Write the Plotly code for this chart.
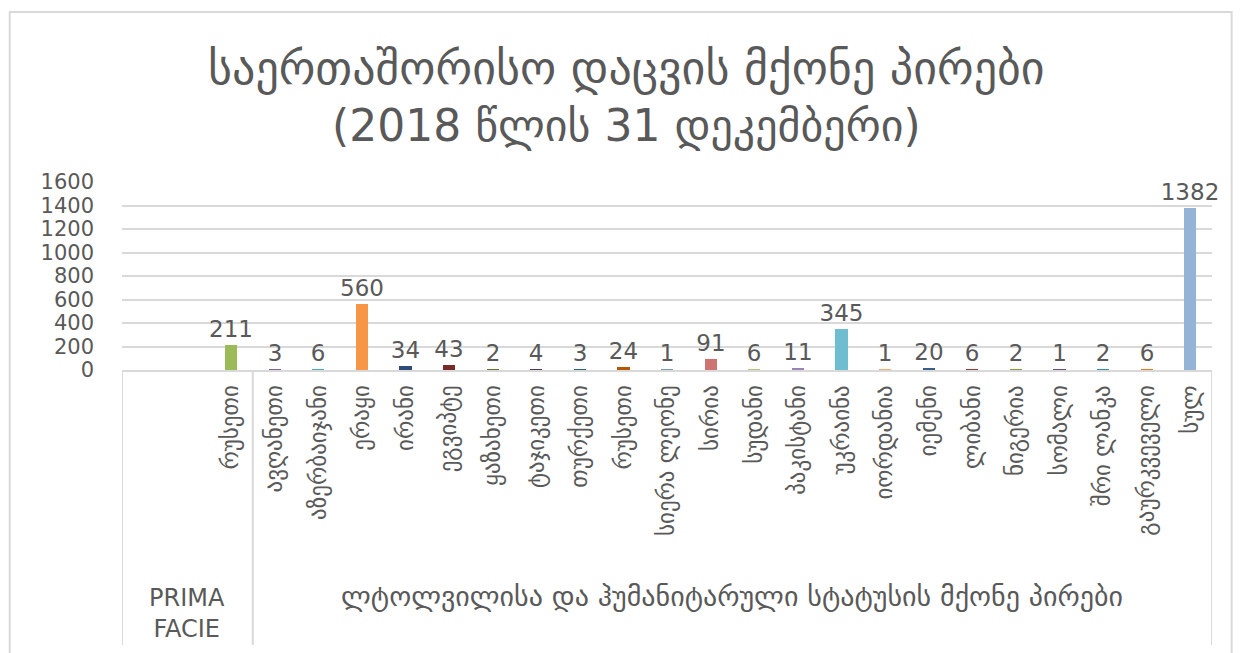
import plotly.graph_objects as go

# data
countries = ["რუსეთი", "ავღანეთი", "აზერბაიჯანი", "ერაყი", "ირანი", "ეგვიპტე",
             "ყაზახეთი", "ტაჯიკეთი", "თურქეთი", "რუსეთი", "სიერა ლეონე", "სირია",
             "სუდანი", "პაკისტანი", "უკრაინა", "იორდანია", "იემენი", "ლიბანი",
             "ნიგერია", "სომალი", "შრი ლანკა", "გაურკვეველი", "სულ"]
persons = [211, 3, 6, 560, 34, 43, 2, 4, 3, 24, 1, 91, 6, 11, 345, 1, 20, 6, 2, 1, 2, 6, 1382]
groups = ["PRIMA<br>FACIE", "ლტოლვილისა და ჰუმანიტარული სტატუსის მქონე პირები"]
group_sizes = [1, 22]
yticks = [0, 200, 400, 600, 800, 1000, 1200, 1400, 1600]

bar_colors = ["#9BBB59", "#8064A2", "#4BACC6", "#F79646", "#2C4D75", "#772C2A",
              "#5F7530", "#4D3B62", "#276A7C", "#B65708", "#729ACA", "#CD7371",
              "#AFC97A", "#9983B5", "#6FBDD1", "#F9AB6B", "#3A5F8A", "#9E3B38",
              "#7E9B40", "#664F83", "#358EA6", "#F3781A", "#95B3D7"]

offset = 2  # two empty slots at the start of the axis
xs = [i + offset for i in range(len(countries))]
n_slots = len(countries) + offset

FONT = "DejaVu Sans"
GRAY = "#595959"
LINE = "#D9D9D9"

fig = go.Figure()
fig.add_trace(go.Bar(
    x=xs, y=persons, width=0.28,
    marker=dict(color=bar_colors, line=dict(width=0)),
    text=persons, textposition="outside", cliponaxis=False, constraintext="none",
    textfont=dict(family=FONT, size=23, color=GRAY),
))

# group boundaries (first group also holds the empty slots)
bounds = [-0.5]
for i, s in enumerate(group_sizes):
    bounds.append(bounds[-1] + s + (offset if i == 0 else 0))
shapes = [dict(type="line", xref="x", yref="paper", x0=b, x1=b, y0=0, y1=-1.463,
               line=dict(color=LINE, width=2)) for b in bounds]
# chart border
shapes.append(dict(type="rect", xref="paper", yref="paper", x0=-0.103, x1=1.018,
                   y0=-1.6, y1=1.904, line=dict(color=LINE, width=2)))

annotations = []
group_y = [-1.293, -1.207]
group_size_font = [24, 28]
for k, g in enumerate(groups):
    annotations.append(dict(x=(bounds[k] + bounds[k + 1]) / 2, y=group_y[k],
                            xref="x", yref="paper", yanchor="middle",
                            text=g, showarrow=False,
                            font=dict(family=FONT, size=group_size_font[k], color=GRAY)))
annotations.append(dict(x=0.463, y=1.606, xref="paper", yref="paper", showarrow=False,
                        yanchor="middle",
                        text="საერთაშორისო დაცვის მქონე პირები",
                        font=dict(family=FONT, size=46, color=GRAY)))
annotations.append(dict(x=0.463, y=1.303, xref="paper", yref="paper", showarrow=False,
                        yanchor="middle",
                        text="(2018 წლის 31 დეკემბერი)",
                        font=dict(family=FONT, size=44, color=GRAY)))

# page body has an 8px margin, so the figure is 8px smaller and margins shifted
fig.update_layout(
    width=1233, height=645,
    margin=dict(l=114, r=29, t=174, b=283, autoexpand=False),
    paper_bgcolor="white", plot_bgcolor="white",
    showlegend=False, bargap=0,
    shapes=shapes, annotations=annotations,
    xaxis=dict(range=[-0.5, n_slots - 0.5], tickvals=xs, ticktext=countries,
               tickangle=-90, ticks="", showgrid=False, zeroline=False,
               showline=True, linecolor=LINE, linewidth=2,
               tickfont=dict(family=FONT, size=23, color=GRAY), ticklabelstandoff=4),
    yaxis=dict(range=[0, 1600], tickvals=yticks, showgrid=True, gridcolor=LINE,
               gridwidth=2, zeroline=False, ticks="", showline=False,
               tickfont=dict(family=FONT, size=21, color=GRAY), ticklabelstandoff=27),
)

fig.write_html("out.html")
